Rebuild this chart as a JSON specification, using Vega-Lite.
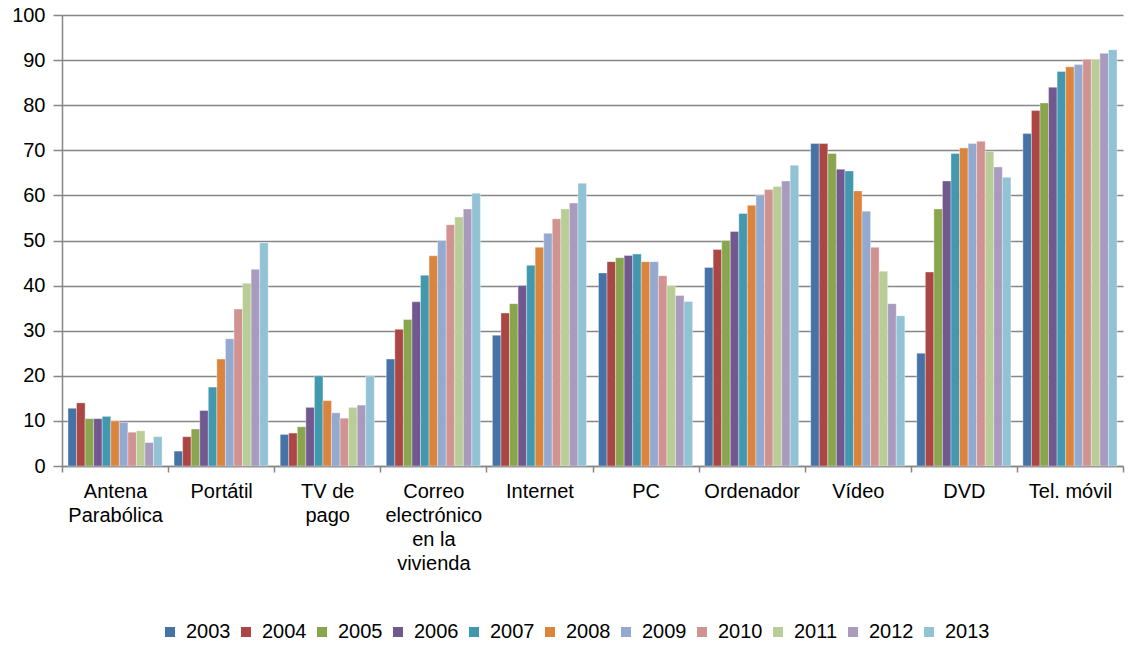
{
  "$schema": "https://vega.github.io/schema/vega-lite/v6.json",
  "width": 1061,
  "height": 451,
  "autosize": "none",
  "padding": {"left": 62, "top": 15, "right": 5, "bottom": 179},
  "config": {
    "view": {"stroke": null},
    "font": "Liberation Sans",
    "axis": {"labelFont": "Liberation Sans", "labelColor": "#000000", "domainColor": "#868686", "tickColor": "#868686", "gridColor": "#868686", "domainWidth": 1.5, "tickWidth": 1.5}
  },
  "data": {"values": [
    {"cat": "Antena|Parabólica", "year": "2003", "v": 12.8},
    {"cat": "Antena|Parabólica", "year": "2004", "v": 14.0},
    {"cat": "Antena|Parabólica", "year": "2005", "v": 10.5},
    {"cat": "Antena|Parabólica", "year": "2006", "v": 10.5},
    {"cat": "Antena|Parabólica", "year": "2007", "v": 11.0},
    {"cat": "Antena|Parabólica", "year": "2008", "v": 10.0},
    {"cat": "Antena|Parabólica", "year": "2009", "v": 9.7},
    {"cat": "Antena|Parabólica", "year": "2010", "v": 7.5},
    {"cat": "Antena|Parabólica", "year": "2011", "v": 7.8},
    {"cat": "Antena|Parabólica", "year": "2012", "v": 5.2},
    {"cat": "Antena|Parabólica", "year": "2013", "v": 6.5},
    {"cat": "Portátil", "year": "2003", "v": 3.3},
    {"cat": "Portátil", "year": "2004", "v": 6.5},
    {"cat": "Portátil", "year": "2005", "v": 8.2},
    {"cat": "Portátil", "year": "2006", "v": 12.3},
    {"cat": "Portátil", "year": "2007", "v": 17.5},
    {"cat": "Portátil", "year": "2008", "v": 23.7},
    {"cat": "Portátil", "year": "2009", "v": 28.2},
    {"cat": "Portátil", "year": "2010", "v": 34.8},
    {"cat": "Portátil", "year": "2011", "v": 40.5},
    {"cat": "Portátil", "year": "2012", "v": 43.6},
    {"cat": "Portátil", "year": "2013", "v": 49.5},
    {"cat": "TV de|pago", "year": "2003", "v": 7.0},
    {"cat": "TV de|pago", "year": "2004", "v": 7.3},
    {"cat": "TV de|pago", "year": "2005", "v": 8.7},
    {"cat": "TV de|pago", "year": "2006", "v": 13.0},
    {"cat": "TV de|pago", "year": "2007", "v": 20.0},
    {"cat": "TV de|pago", "year": "2008", "v": 14.5},
    {"cat": "TV de|pago", "year": "2009", "v": 11.8},
    {"cat": "TV de|pago", "year": "2010", "v": 10.6},
    {"cat": "TV de|pago", "year": "2011", "v": 13.0},
    {"cat": "TV de|pago", "year": "2012", "v": 13.5},
    {"cat": "TV de|pago", "year": "2013", "v": 20.0},
    {"cat": "Correo|electrónico|en la|vivienda", "year": "2003", "v": 23.7},
    {"cat": "Correo|electrónico|en la|vivienda", "year": "2004", "v": 30.3},
    {"cat": "Correo|electrónico|en la|vivienda", "year": "2005", "v": 32.5},
    {"cat": "Correo|electrónico|en la|vivienda", "year": "2006", "v": 36.4},
    {"cat": "Correo|electrónico|en la|vivienda", "year": "2007", "v": 42.3},
    {"cat": "Correo|electrónico|en la|vivienda", "year": "2008", "v": 46.6},
    {"cat": "Correo|electrónico|en la|vivienda", "year": "2009", "v": 50.0},
    {"cat": "Correo|electrónico|en la|vivienda", "year": "2010", "v": 53.5},
    {"cat": "Correo|electrónico|en la|vivienda", "year": "2011", "v": 55.2},
    {"cat": "Correo|electrónico|en la|vivienda", "year": "2012", "v": 57.0},
    {"cat": "Correo|electrónico|en la|vivienda", "year": "2013", "v": 60.5},
    {"cat": "Internet", "year": "2003", "v": 29.0},
    {"cat": "Internet", "year": "2004", "v": 33.9},
    {"cat": "Internet", "year": "2005", "v": 36.0},
    {"cat": "Internet", "year": "2006", "v": 40.0},
    {"cat": "Internet", "year": "2007", "v": 44.5},
    {"cat": "Internet", "year": "2008", "v": 48.5},
    {"cat": "Internet", "year": "2009", "v": 51.6},
    {"cat": "Internet", "year": "2010", "v": 54.8},
    {"cat": "Internet", "year": "2011", "v": 57.0},
    {"cat": "Internet", "year": "2012", "v": 58.3},
    {"cat": "Internet", "year": "2013", "v": 62.7},
    {"cat": "PC", "year": "2003", "v": 42.8},
    {"cat": "PC", "year": "2004", "v": 45.3},
    {"cat": "PC", "year": "2005", "v": 46.2},
    {"cat": "PC", "year": "2006", "v": 46.7},
    {"cat": "PC", "year": "2007", "v": 47.0},
    {"cat": "PC", "year": "2008", "v": 45.3},
    {"cat": "PC", "year": "2009", "v": 45.3},
    {"cat": "PC", "year": "2010", "v": 42.2},
    {"cat": "PC", "year": "2011", "v": 40.0},
    {"cat": "PC", "year": "2012", "v": 37.8},
    {"cat": "PC", "year": "2013", "v": 36.5},
    {"cat": "Ordenador", "year": "2003", "v": 44.0},
    {"cat": "Ordenador", "year": "2004", "v": 48.0},
    {"cat": "Ordenador", "year": "2005", "v": 50.0},
    {"cat": "Ordenador", "year": "2006", "v": 52.0},
    {"cat": "Ordenador", "year": "2007", "v": 56.0},
    {"cat": "Ordenador", "year": "2008", "v": 57.8},
    {"cat": "Ordenador", "year": "2009", "v": 60.0},
    {"cat": "Ordenador", "year": "2010", "v": 61.3},
    {"cat": "Ordenador", "year": "2011", "v": 62.0},
    {"cat": "Ordenador", "year": "2012", "v": 63.2},
    {"cat": "Ordenador", "year": "2013", "v": 66.7},
    {"cat": "Vídeo", "year": "2003", "v": 71.5},
    {"cat": "Vídeo", "year": "2004", "v": 71.5},
    {"cat": "Vídeo", "year": "2005", "v": 69.3},
    {"cat": "Vídeo", "year": "2006", "v": 65.8},
    {"cat": "Vídeo", "year": "2007", "v": 65.4},
    {"cat": "Vídeo", "year": "2008", "v": 61.0},
    {"cat": "Vídeo", "year": "2009", "v": 56.5},
    {"cat": "Vídeo", "year": "2010", "v": 48.5},
    {"cat": "Vídeo", "year": "2011", "v": 43.2},
    {"cat": "Vídeo", "year": "2012", "v": 36.0},
    {"cat": "Vídeo", "year": "2013", "v": 33.3},
    {"cat": "DVD", "year": "2003", "v": 25.0},
    {"cat": "DVD", "year": "2004", "v": 43.0},
    {"cat": "DVD", "year": "2005", "v": 57.0},
    {"cat": "DVD", "year": "2006", "v": 63.2},
    {"cat": "DVD", "year": "2007", "v": 69.3},
    {"cat": "DVD", "year": "2008", "v": 70.5},
    {"cat": "DVD", "year": "2009", "v": 71.5},
    {"cat": "DVD", "year": "2010", "v": 72.0},
    {"cat": "DVD", "year": "2011", "v": 69.8},
    {"cat": "DVD", "year": "2012", "v": 66.3},
    {"cat": "DVD", "year": "2013", "v": 64.0},
    {"cat": "Tel. móvil", "year": "2003", "v": 73.7},
    {"cat": "Tel. móvil", "year": "2004", "v": 78.8},
    {"cat": "Tel. móvil", "year": "2005", "v": 80.5},
    {"cat": "Tel. móvil", "year": "2006", "v": 84.0},
    {"cat": "Tel. móvil", "year": "2007", "v": 87.5},
    {"cat": "Tel. móvil", "year": "2008", "v": 88.5},
    {"cat": "Tel. móvil", "year": "2009", "v": 89.0},
    {"cat": "Tel. móvil", "year": "2010", "v": 90.2},
    {"cat": "Tel. móvil", "year": "2011", "v": 90.2},
    {"cat": "Tel. móvil", "year": "2012", "v": 91.5},
    {"cat": "Tel. móvil", "year": "2013", "v": 92.3}
  ]},
  "mark": {"type": "bar", "stroke": "#ffffff", "strokeWidth": 0.5, "strokeOpacity": 0.7},
  "encoding": {
    "x": {
      "field": "cat", "type": "nominal", "sort": null,
      "scale": {"paddingInner": 0, "paddingOuter": 0},
      "axis": {"title": null, "labelAngle": 0, "labelExpr": "isString(datum.value) ? split(datum.value, '|') : ''", "labelFontSize": 20, "labelLineHeight": 24, "labelPadding": 9, "tickBand": "extent", "tickSize": 6, "labelBaseline": "top"}
    },
    "xOffset": {"field": "year", "type": "nominal", "scale": {"paddingInner": 0, "paddingOuter": 0.7}},
    "y": {
      "field": "v", "type": "quantitative",
      "scale": {"domain": [0, 100], "nice": false},
      "axis": {"title": null, "values": [0, 10, 20, 30, 40, 50, 60, 70, 80, 90, 100], "labelFontSize": 20, "labelPadding": 8, "tickSize": 9, "gridWidth": 1.5}
    },
    "color": {
      "field": "year", "type": "nominal",
      "scale": {"domain": ["2003","2004","2005","2006","2007","2008","2009","2010","2011","2012","2013"],
                "range": ["#4572A7","#AA4643","#89A54E","#71588F","#4198AF","#DB843D","#93A9CF","#D19392","#B9CD96","#A99BBD","#92C3D5"]},
      "legend": {"title": null, "orient": "none", "legendX": 98, "legendY": 607, "direction": "horizontal", "columns": 11, "symbolType": "square", "symbolSize": 100, "symbolStrokeWidth": 0, "labelFontSize": 20, "labelFont": "Liberation Sans", "labelColor": "#000000", "columnPadding": 5, "labelOffset": 6}
    }
  }
}
